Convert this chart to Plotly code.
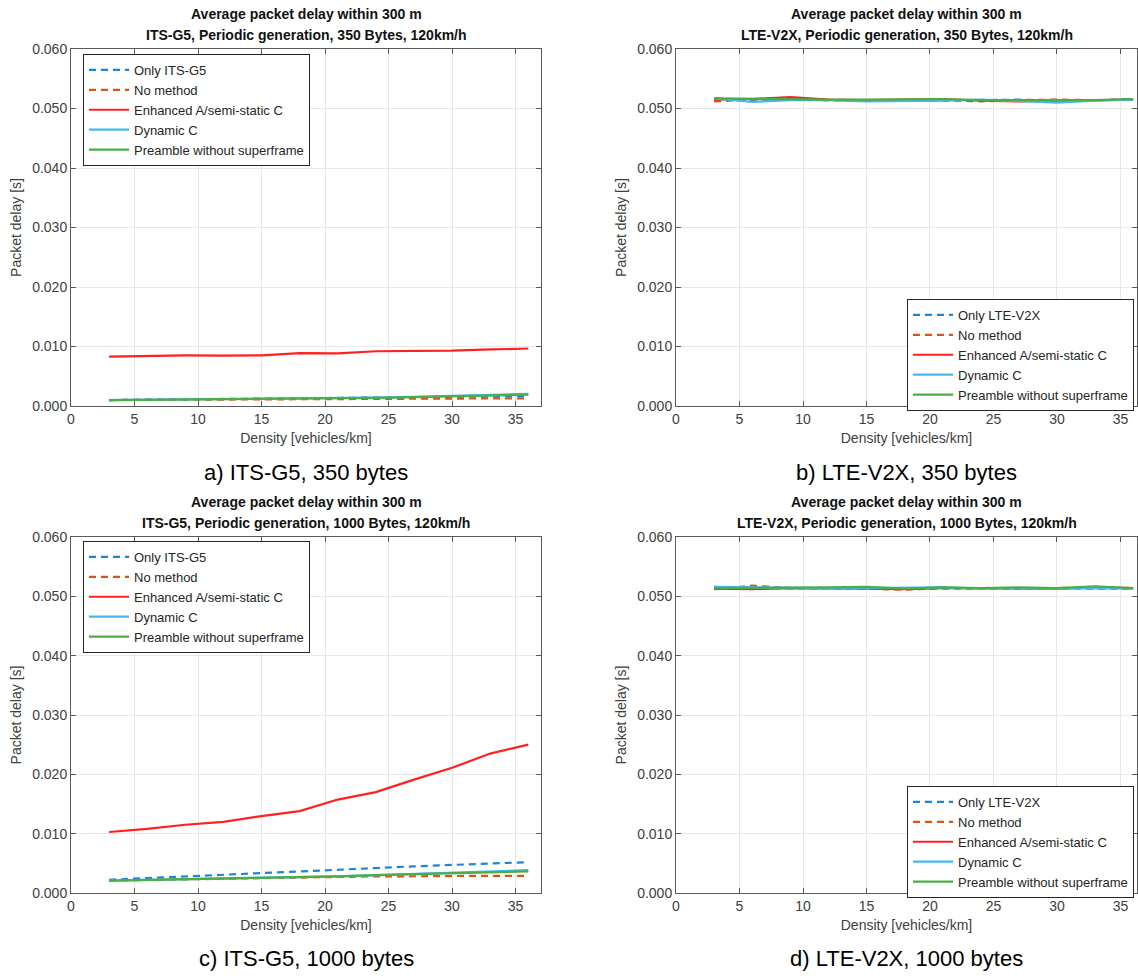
import plotly.graph_objects as go

W, H = 1138, 976

# Vehicle density [vehicles/km]
density = [3, 6, 9, 12, 15, 18, 21, 24, 27, 30, 33, 36]

# a) ITS-G5, 350 bytes  (delay in seconds)
a_only = [0.00100, 0.00105, 0.00110, 0.00115, 0.00120, 0.00125, 0.00130, 0.00135, 0.00145, 0.00150, 0.00160, 0.00170]
a_none = [0.00100, 0.00103, 0.00106, 0.00108, 0.00110, 0.00112, 0.00114, 0.00117, 0.00120, 0.00122, 0.00125, 0.00130]
a_enh = [0.00830, 0.00840, 0.00850, 0.00847, 0.00850, 0.00890, 0.00885, 0.00920, 0.00920, 0.00930, 0.00950, 0.00966]
a_dyn = [0.00100, 0.00105, 0.00110, 0.00113, 0.00117, 0.00122, 0.00130, 0.00140, 0.00155, 0.00170, 0.00185, 0.00205]
a_pre = [0.00100, 0.00104, 0.00108, 0.00112, 0.00116, 0.00120, 0.00127, 0.00137, 0.00150, 0.00162, 0.00175, 0.00190]

# b) LTE-V2X, 350 bytes
b_only = [0.0517, 0.0514, 0.0515, 0.0514, 0.0513, 0.0514, 0.0513, 0.0514, 0.0515, 0.0513, 0.0514, 0.0515]
b_none = [0.0512, 0.0515, 0.0516, 0.0514, 0.0514, 0.0513, 0.0514, 0.0512, 0.0514, 0.0515, 0.0514, 0.0515]
b_enh = [0.0515, 0.0516, 0.0519, 0.0515, 0.0514, 0.0515, 0.0516, 0.0513, 0.0512, 0.0513, 0.0514, 0.0515]
b_dyn = [0.0517, 0.0511, 0.0514, 0.0514, 0.0512, 0.0512, 0.0513, 0.0515, 0.0513, 0.0510, 0.0513, 0.0515]
b_pre = [0.0517, 0.0516, 0.0515, 0.0515, 0.0515, 0.0515, 0.0516, 0.0514, 0.0514, 0.0513, 0.0514, 0.0516]

# c) ITS-G5, 1000 bytes
c_only = [0.00223, 0.00250, 0.00280, 0.00300, 0.00330, 0.00360, 0.00385, 0.00420, 0.00450, 0.00475, 0.00500, 0.00520]
c_none = [0.00210, 0.00220, 0.00240, 0.00250, 0.00260, 0.00262, 0.00270, 0.00280, 0.00282, 0.00290, 0.00290, 0.00290]
c_enh = [0.01028, 0.01080, 0.01150, 0.01200, 0.01296, 0.01380, 0.01575, 0.01700, 0.01910, 0.02110, 0.02350, 0.02500]
c_dyn = [0.00210, 0.00220, 0.00230, 0.00250, 0.00260, 0.00270, 0.00280, 0.00300, 0.00320, 0.00345, 0.00365, 0.00385]
c_pre = [0.00210, 0.00220, 0.00230, 0.00240, 0.00250, 0.00260, 0.00280, 0.00300, 0.00315, 0.00330, 0.00350, 0.00365]

# d) LTE-V2X, 1000 bytes
d_only = [0.0516, 0.0514, 0.0514, 0.0514, 0.0514, 0.0513, 0.0514, 0.0513, 0.0513, 0.0513, 0.0513, 0.0513]
d_none = [0.0512, 0.0518, 0.0514, 0.0514, 0.0513, 0.0511, 0.0514, 0.0513, 0.0513, 0.0514, 0.0515, 0.0513]
d_enh = [0.0513, 0.0512, 0.0514, 0.0514, 0.0513, 0.0512, 0.0514, 0.0514, 0.0514, 0.0513, 0.0515, 0.0514]
d_dyn = [0.0516, 0.0515, 0.0514, 0.0514, 0.0514, 0.0514, 0.0515, 0.0513, 0.0514, 0.0513, 0.0514, 0.0513]
d_pre = [0.0514, 0.0514, 0.0514, 0.0515, 0.0516, 0.0513, 0.0515, 0.0514, 0.0515, 0.0514, 0.0517, 0.0514]

y_ticks = [0.0, 0.01, 0.02, 0.03, 0.04, 0.05, 0.06]
y_tick_text = ["0.000", "0.010", "0.020", "0.030", "0.040", "0.050", "0.060"]
x_ticks = [0, 5, 10, 15, 20, 25, 30, 35]

series_names_its = ["Only ITS-G5", "No method", "Enhanced A/semi-static C", "Dynamic C", "Preamble without superframe"]
series_names_lte = ["Only LTE-V2X", "No method", "Enhanced A/semi-static C", "Dynamic C", "Preamble without superframe"]
colors = ["#1f86d6", "#d9531a", "#ff2020", "#45b8ec", "#4aae43"]
dashes = ["dash", "dash", "solid", "solid", "solid"]

title_line1 = "Average packet delay within 300 m"
title_line2 = [
    "ITS-G5, Periodic generation, 350 Bytes, 120km/h",
    "LTE-V2X, Periodic generation, 350 Bytes, 120km/h",
    "ITS-G5, Periodic generation, 1000 Bytes, 120km/h",
    "LTE-V2X, Periodic generation, 1000 Bytes, 120km/h",
]
captions = ["a) ITS-G5, 350 bytes", "b) LTE-V2X, 350 bytes", "c) ITS-G5, 1000 bytes", "d) LTE-V2X, 1000 bytes"]

panels = [
    (series_names_its, [a_only, a_none, a_enh, a_dyn, a_pre]),
    (series_names_lte, [b_only, b_none, b_enh, b_dyn, b_pre]),
    (series_names_its, [c_only, c_none, c_enh, c_dyn, c_pre]),
    (series_names_lte, [d_only, d_none, d_enh, d_dyn, d_pre]),
]

# pixel boxes of each axes: (left, right, top, bottom)
boxes = [(71, 541, 49, 406), (676, 1137, 49, 406), (71, 541, 537, 893), (676, 1137, 537, 893)]
x_ranges = [[0, 37], [0, 36.3], [0, 37], [0, 36.3]]
# legend anchors in pixels (left, top)
legend_pos = [(83, 54), (907, 299), (83, 541), (907, 786)]

FONT = "Liberation Sans, Arial, Helvetica, sans-serif"
AX = "#262626"

fig = go.Figure()
layout = dict(
    width=W, height=H, margin=dict(l=0, r=0, t=0, b=0, autoexpand=False),
    paper_bgcolor="white", plot_bgcolor="white",
    font=dict(family=FONT, color=AX),
    annotations=[],
)


def label(text, px, py, size, color, bold=False):
    return dict(
        text=f"<b>{text}</b>" if bold else text,
        x=px / W, y=1 - py / H, xref="paper", yref="paper",
        xanchor="center", yanchor="middle", showarrow=False,
        font=dict(family=FONT, size=size, color=color),
    )


for i, (names, ys) in enumerate(panels):
    k = "" if i == 0 else str(i + 1)
    leg = "legend" if i == 0 else f"legend{i + 1}"
    for name, y, c, d in zip(names, ys, colors, dashes):
        fig.add_trace(go.Scatter(
            x=density, y=y, name=name, mode="lines",
            line=dict(color=c, width=2.2, dash="7px,5px" if d == "dash" else "solid"),
            xaxis=f"x{k}", yaxis=f"y{k}", legend=leg,
        ))
    l, r, t, b = boxes[i]
    axis_common = dict(
        showline=True, linecolor="#5a5a5a", linewidth=1, mirror="ticks",
        ticks="inside", ticklen=5, tickcolor="#5a5a5a",
        showgrid=True, gridcolor="#e8e8e8", gridwidth=1, zeroline=False,
        tickfont=dict(family=FONT, size=14, color="#404040"),
        fixedrange=True, automargin=False,
    )
    layout[f"xaxis{k}"] = dict(
        axis_common, domain=[l / W, r / W], range=x_ranges[i],
        tickvals=x_ticks, anchor=f"y{k}",
        title=dict(text="Density [vehicles/km]", font=dict(family=FONT, size=14, color="#404040"), standoff=7),
    )
    layout[f"yaxis{k}"] = dict(
        axis_common, domain=[1 - b / H, 1 - t / H], range=[0, 0.06],
        tickvals=y_ticks, ticktext=y_tick_text, anchor=f"x{k}",
        title=dict(text="Packet delay [s]", font=dict(family=FONT, size=14, color="#404040"), standoff=7),
    )
    lx, ly = legend_pos[i]
    layout[leg] = dict(
        x=lx / W, y=1 - ly / H, xanchor="left", yanchor="top",
        bgcolor="white", bordercolor="#262626", borderwidth=1,
        font=dict(family=FONT, size=13, color="#262626"),
        tracegroupgap=0, itemwidth=40,
    )
    cx = (l + r) / 2
    layout["annotations"].append(label(title_line1, cx, t - 35, 14, "#111111", bold=True))
    layout["annotations"].append(label(title_line2[i], cx, t - 14, 14, "#111111", bold=True))
    cap_y = 472 if i < 2 else 958
    layout["annotations"].append(label(captions[i], cx, cap_y, 22, "#000000"))

fig.update_layout(**layout)
fig.write_html("out.html")
